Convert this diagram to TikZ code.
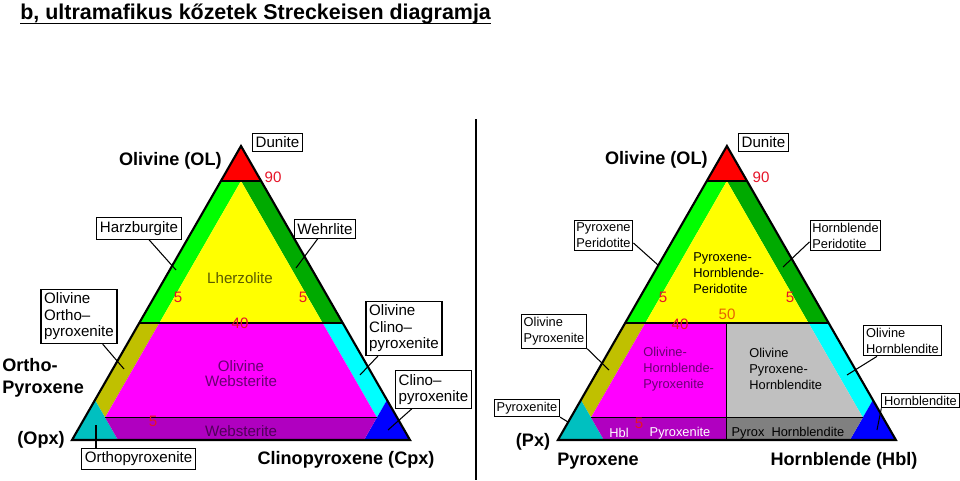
\documentclass[tikz,border=0pt]{standalone}
\usepackage{fontspec}
\setmainfont{Liberation Sans}

\definecolor{olred}{RGB}{255,0,0}
\definecolor{hzgreen}{RGB}{0,255,0}
\definecolor{whgreen}{RGB}{0,170,0}
\definecolor{lzyellow}{RGB}{255,255,0}
\definecolor{opolive}{RGB}{192,192,0}
\definecolor{cpcyan}{RGB}{0,255,255}
\definecolor{opxteal}{RGB}{0,192,192}
\definecolor{cpxblue}{RGB}{0,0,255}
\definecolor{wbmag}{RGB}{255,0,255}
\definecolor{wbpurple}{RGB}{176,0,192}
\definecolor{hbgray}{RGB}{192,192,192}
\definecolor{hbdark}{RGB}{128,128,128}
\definecolor{numred}{RGB}{230,20,40}
\definecolor{numorange}{RGB}{230,100,0}
\definecolor{txtpurple}{RGB}{105,0,115}
\definecolor{txtdeep}{RGB}{80,0,90}
\definecolor{txtolive}{RGB}{90,90,0}

\newcommand{\lfont}{\fontsize{8.6}{9.4}\selectfont}
\newcommand{\rfont}{\fontsize{7.3}{9.1}\selectfont}

\tikzset{
    lbox/.style={draw, fill=white, line width=0.6pt, inner xsep=1.8pt, inner ysep=2pt, align=left, font=\lfont},
    rbox/.style={lbox, inner xsep=1.3pt, inner ysep=1.5pt, font=\rfont},
    corner/.style={font=\bfseries\fontsize{10.3}{12.5}\selectfont, inner sep=0pt},
    num/.style={text=numred, font=\lfont, inner sep=0pt},
    intext/.style={inner sep=0pt, align=left},
    pointer/.style={line width=0.6pt},
}

% fields shared by both triangles, #1 = prefix of the point names
\newcommand{\trifill}[1]{
    \coordinate (#1top) at (241,146);
    \coordinate (#1bl) at (72,440);
    \coordinate (#1br) at (410,440);
    \coordinate (#1rl) at (221,181);
    \coordinate (#1rr) at (261,181);
    \coordinate (#1ym) at (241,181);
    \coordinate (#1gl) at (139.3,323);
    \coordinate (#1yl) at (159.4,323);
    \coordinate (#1yr) at (322.6,323);
    \coordinate (#1gr) at (342.7,323);
    \coordinate (#1ol) at (95,400);
    \coordinate (#1or) at (387,400);
    \coordinate (#1wl) at (105.1,417.5);
    \coordinate (#1wr) at (376.9,417.5);
    \coordinate (#1tl) at (118,440);
    \coordinate (#1tr) at (364,440);
    \fill[olred] (#1top) -- (#1rl) -- (#1rr) -- cycle;
    \fill[hzgreen] (#1rl) -- (#1ym) -- (#1yl) -- (#1gl) -- cycle;
    \fill[whgreen] (#1ym) -- (#1rr) -- (#1gr) -- (#1yr) -- cycle;
    \fill[lzyellow] (#1ym) -- (#1yr) -- (#1yl) -- cycle;
    \fill[opolive] (#1gl) -- (#1yl) -- (#1wl) -- (#1ol) -- cycle;
    \fill[cpcyan] (#1gr) -- (#1yr) -- (#1wr) -- (#1or) -- cycle;
    \fill[opxteal] (#1bl) -- (#1tl) -- (#1ol) -- cycle;
    \fill[cpxblue] (#1br) -- (#1tr) -- (#1or) -- cycle;
}

\begin{document}
\begin{tikzpicture}[x=0.02cm, y=-0.02cm]
\useasboundingbox (0,0) rectangle (960,480);

\node[anchor=base west, inner sep=0pt, font=\bfseries\fontsize{12.2}{14}\selectfont] (title) at (20,19) {b, ultramafikus kőzetek Streckeisen diagramja};
\draw[line width=0.9pt] ([yshift=-2.6pt]title.base west) -- ([yshift=-2.6pt]title.base east);
\draw[line width=0.9pt] (476,119) -- (476,480);

% left: Ol - Opx - Cpx
\trifill{a}
\fill[wbmag] (ayl) -- (ayr) -- (awr) -- (awl) -- cycle;
\fill[wbpurple] (awl) -- (awr) -- (atr) -- (atl) -- cycle;
\draw[line width=0.6pt] (awl) -- (awr);
\draw[line width=0.8pt] (arl) -- (arr) (agl) -- (agr);
\draw[line width=1.2pt] (atop) -- (abl) -- (abr) -- cycle;

% right: Ol - Px - Hbl
\begin{scope}[xshift=9.72cm]
\trifill{b}
\coordinate (bm1) at (241,323);
\coordinate (bm2) at (241,417.5);
\coordinate (bm3) at (241,440);
\fill[wbmag] (byl) -- (bm1) -- (bm2) -- (bwl) -- cycle;
\fill[hbgray] (bm1) -- (byr) -- (bwr) -- (bm2) -- cycle;
\fill[wbpurple] (bwl) -- (bm2) -- (bm3) -- (btl) -- cycle;
\fill[hbdark] (bm2) -- (bwr) -- (btr) -- (bm3) -- cycle;
\draw[line width=0.6pt] (bwl) -- (bwr) (bm1) -- (bm3);
\draw[line width=0.8pt] (brl) -- (brr) (bgl) -- (bgr);
\draw[line width=1.2pt] (btop) -- (bbl) -- (bbr) -- cycle;
\end{scope}

% numbers on the field borders
\foreach \p/\t [count=\i] in {{273,177}/90, {178,297}/5, {303,297}/5, {240,323}/40, {153,421}/5,
    {761,177}/90, {663,297}/5, {790,297}/5, {680,324}/40, {639,423}/5}
    \node[num] (n\i) at (\p) {\t};
\node[num, text=numorange] (n50) at (727,314) {50};

% field names
\node[font=\lfont, text=txtolive] (lherz) at (240,278) {Lherzolite};
\node[font=\fontsize{8.6}{8.6}\selectfont, text=txtpurple, align=center] (olweb) at (241,374) {Olivine\\Websterite};
\node[font=\lfont, text=txtdeep] (webst) at (241,431) {Websterite};
\node[intext, font=\rfont, anchor=west] (pxhblper) at (693,273) {Pyroxene-\\Hornblende-\\Peridotite};
\node[intext, font=\rfont, anchor=west, text=txtpurple] (olhblpx) at (643,369) {Olivine-\\Hornblende-\\Pyroxenite};
\node[intext, font=\rfont, anchor=west] (olpxhbl) at (749,369) {Olivine\\Pyroxene-\\Hornblendite};
\node[font=\rfont, text=white] (hbl) at (619,433) {Hbl};
\node[font=\rfont, text=white] (pxband) at (680,433) {Pyroxenite};
\node[font=\rfont] (pxhbband) at (788,433) {Pyrox\ \ Hornblendite};

% corners
\node[corner, anchor=east] (olA) at (222,161) {Olivine (OL)};
\node[corner, anchor=west, align=left] (opxA) at (2,378) {Ortho-\\Pyroxene};
\node[corner, anchor=east] (opxB) at (65,440) {(Opx)};
\node[corner] (cpxA) at (346,460) {Clinopyroxene (Cpx)};
\node[corner, anchor=east] (olB) at (708,160) {Olivine (OL)};
\node[corner] (pxA) at (533,442) {(Px)};
\node[corner] (pxB) at (598,461) {Pyroxene};
\node[corner] (hblA) at (844,461) {Hornblende (Hbl)};

% boxed names with pointers
\node[lbox] (dunL) at (277.5,142.5) {Dunite};
\node[lbox] (harz) at (139,228.5) {Harzburgite};
\node[lbox] (wehr) at (325,229) {Wehrlite};
\node[lbox] (olopx) at (79,316.5) {Olivine\\Ortho–\\pyroxenite};
\node[lbox] (olcpx) at (404,328.5) {Olivine\\Clino–\\pyroxenite};
\node[lbox] (cpxite) at (433.5,389.5) {Clino–\\pyroxenite};
\node[lbox] (opxite) at (138.5,459) {Orthopyroxenite};
\node[lbox] (dunR) at (763.5,142.5) {Dunite};
\node[rbox] (pxper) at (603.5,235.5) {Pyroxene\\Peridotite};
\node[rbox] (hblper) at (845.5,235.5) {Hornblende\\Peridotite};
\node[rbox] (olpx) at (554,331.5) {Olivine\\Pyroxenite};
\node[rbox] (olhbl) at (902.5,340.5) {Olivine\\Hornblendite};
\node[rbox] (pxite) at (527,408) {Pyroxenite};
\node[rbox] (hblite) at (920.5,400.5) {Hornblendite};

\coordinate (harzpt) at (176,270);
\coordinate (wehrpt) at (296,268);
\coordinate (olopxpt) at (124,369);
\coordinate (olcpxpt) at (360,375);
\coordinate (cpxitept) at (388,430);
\coordinate (opxitept) at (96,425);
\coordinate (pxperpt) at (658,265);
\coordinate (hblperpt) at (783,267);
\coordinate (olpxpt) at (609,370);
\coordinate (olhblpt) at (847,375);
\coordinate (pxitept) at (568,422);
\coordinate (hblitept) at (877,430);

\draw[pointer] (harz) -- (harzpt);
\draw[pointer] (wehr) -- (wehrpt);
\draw[pointer] (olopx) -- (olopxpt);
\draw[pointer] (olcpx) -- (olcpxpt);
\draw[pointer] (cpxite) -- (cpxitept);
\draw[pointer] (opxitept) -- (opxitept |- opxite.north);
\draw[pointer] (pxper.-14) -- (pxperpt);
\draw[pointer] (hblper.190) -- (hblperpt);
\draw[pointer] (olpx.south east) -- (olpxpt);
\draw[pointer] (olhbl) -- (olhblpt);
\draw[pointer] (pxite.south east) -- (pxitept);
\draw[pointer] (hblite.south west) -- (hblitept);
\end{tikzpicture}
\end{document}
